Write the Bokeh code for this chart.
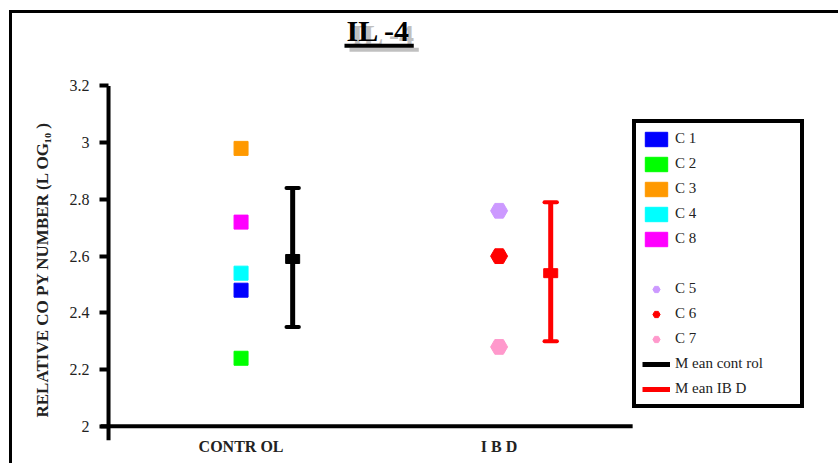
from bokeh.plotting import figure
from bokeh.models import (ColumnDataSource, Legend, LegendItem, Label, BoxAnnotation,
                          FixedTicker, Range1d)
from bokeh.embed import file_html
from bokeh.resources import INLINE

# ---------------- data ----------------
groups = ["CONTR OL", "I B D"]
group_pos = [1, 2]

control_names = ["C 1", "C 2", "C 3", "C 4", "C 8"]
control_values = [2.48, 2.24, 2.98, 2.54, 2.72]
control_colors = ["#0000ff", "#00ff00", "#ff9900", "#00ffff", "#ff00ff"]

ibd_names = ["C 5", "C 6", "C 7"]
ibd_values = [2.76, 2.60, 2.28]
ibd_colors = ["#cc99ff", "#ff0000", "#ff99cc"]

mean_names = ["M ean cont rol", "M ean IB D"]
mean_values = [2.59, 2.54]
mean_lower = [2.35, 2.30]
mean_upper = [2.84, 2.79]
mean_colors = ["#000000", "#ff0000"]

y_ticks = [2, 2.2, 2.4, 2.6, 2.8, 3, 3.2]
y_tick_labels = ["2", "2.2", "2.4", "2.6", "2.8", "3", "3.2"]

title_text = "IL -4"
y_title = "RELATIVE CO PY NUMBER (L OG\u2081\u2080 )"

# ---------------- styles / geometry ----------------
FONT = "Liberation Serif"
mean_offset = 0.2
cap_half = 0.024
X0, X1 = 0.4553, 3.3269          # x range (frame also holds the legend area)
x_axis_end = 2.5175              # right end of the horizontal axis line
Y0, Y1 = 1.95, 3.4556            # y range (top part holds the title)
axis_x = 0.4864                  # where the vertical axis line sits
# title placement (data units of the frame)
tx, ty = 1.533, 3.397
sdx, sdy = 0.0195, -0.0142       # shadow offset
ul_left, ul_right, ul_top, ul_bot = 1.4008, 1.6693, 3.3491, 3.3349

p = figure(width=829, height=453,
           x_range=Range1d(X0, X1), y_range=Range1d(Y0, Y1),
           output_backend="svg", toolbar_location=None,
           min_border_left=88, min_border_right=0,
           min_border_top=0, min_border_bottom=26)
p.title = None
p.styles = {"margin-left": "9px", "margin-top": "10px",
            "border-top": "3px solid black", "border-left": "3px solid black"}
p.outline_line_color = None
p.xgrid.visible = False
p.ygrid.visible = False

# y axis
p.yaxis.ticker = FixedTicker(ticks=y_ticks)
p.yaxis.major_label_overrides = dict(zip(y_ticks, y_tick_labels))
p.yaxis.axis_line_color = None
p.yaxis.major_tick_line_width = 4
p.yaxis.major_tick_line_color = "black"
p.yaxis.major_tick_in = 8
p.yaxis.major_tick_out = 1
p.yaxis.minor_tick_line_color = None
p.yaxis.major_label_text_font = FONT
p.yaxis.major_label_text_font_size = "16px"
p.yaxis.major_label_text_color = "#222222"
p.yaxis.major_label_standoff = 10
# trailing no-break spaces shift the label's centre down to the plotted part
p.yaxis.axis_label = y_title + "\u00a0" * 20
p.yaxis.axis_label_text_font = FONT
p.yaxis.axis_label_text_font_size = "17px"
p.yaxis.axis_label_text_font_style = "bold"
p.yaxis.axis_label_text_color = "#222222"
p.yaxis.axis_label_standoff = 15

# x axis
p.xaxis.ticker = FixedTicker(ticks=group_pos)
p.xaxis.major_label_overrides = dict(zip(group_pos, groups))
p.xaxis.axis_line_color = None
p.xaxis.major_tick_line_color = None
p.xaxis.major_tick_in = 0
p.xaxis.major_tick_out = 0
p.xaxis.minor_tick_line_color = None
p.xaxis.minor_tick_in = 0
p.xaxis.minor_tick_out = 0
p.xaxis.major_label_text_font = FONT
p.xaxis.major_label_text_font_size = "16px"
p.xaxis.major_label_text_font_style = "bold"
p.xaxis.major_label_text_color = "#222222"
p.xaxis.major_label_standoff = -3

# axis lines (crossing at y = 2)
p.segment(x0=[X0], y0=[y_ticks[0]], x1=[x_axis_end], y1=[y_ticks[0]], line_color="black",
          line_width=4)
p.segment(x0=[axis_x], y0=[Y0], x1=[axis_x], y1=[y_ticks[-1]], line_color="black",
          line_width=4)

# ---------------- glyphs ----------------
ctrl_src = ColumnDataSource(dict(x=[group_pos[0]] * len(control_values), y=control_values,
                                 color=control_colors))
r_ctrl = p.rect("x", "y", width=14, height=14, width_units="screen", height_units="screen",
                fill_color="color", line_color="color", source=ctrl_src)

ibd_src = ColumnDataSource(dict(x=[group_pos[1]] * len(ibd_values), y=ibd_values,
                                color=ibd_colors))
r_ibd = p.scatter("x", "y", marker="hex", size=17, fill_color="color", line_color="color",
                  source=ibd_src)

mx = [g + mean_offset for g in group_pos]
err_src = ColumnDataSource(dict(x=mx, lo=mean_lower, hi=mean_upper, m=mean_values,
                                color=mean_colors,
                                cl=[v - cap_half for v in mx], cr=[v + cap_half for v in mx]))
r_err = p.segment(x0="x", y0="lo", x1="x", y1="hi", line_color="color", line_width=5,
                  source=err_src)
p.segment(x0="cl", y0="hi", x1="cr", y1="hi", line_color="color", line_width=4,
          line_cap="round", source=err_src)
p.segment(x0="cl", y0="lo", x1="cr", y1="lo", line_color="color", line_width=4,
          line_cap="round", source=err_src)
p.rect("x", "m", width=14, height=9, width_units="screen", height_units="screen",
       fill_color="color", line_color="color", source=err_src)

r_blank = p.rect(x=[], y=[], width=1, height=1, fill_alpha=0, line_alpha=0)

# ---------------- legend ----------------
items = [LegendItem(label=n, renderers=[r_ctrl], index=i) for i, n in enumerate(control_names)]
items.append(LegendItem(label=" ", renderers=[r_blank]))
items += [LegendItem(label=n, renderers=[r_ibd], index=i) for i, n in enumerate(ibd_names)]
items += [LegendItem(label=n, renderers=[r_err], index=i) for i, n in enumerate(mean_names)]

legend = Legend(items=items, location=(532, 32), border_line_color="black",
                border_line_alpha=1, border_line_width=4, padding=6, spacing=6,
                glyph_width=28, glyph_height=18, label_height=19, label_width=119,
                label_standoff=5, margin=0,
                label_text_font=FONT, label_text_font_size="15px",
                label_text_color="#222222", background_fill_color="white",
                background_fill_alpha=1, click_policy="none")
p.add_layout(legend)

# ---------------- title (underlined, with grey shadow) ----------------
p.add_layout(BoxAnnotation(left=ul_left + sdx, right=ul_right + sdx,
                           top=ul_top + sdy, bottom=ul_bot + sdy,
                           fill_color="#c0c0c0", fill_alpha=1, line_color=None))
p.add_layout(Label(x=tx + sdx, y=ty + sdy, text=title_text,
                   text_align="center", text_baseline="alphabetic", text_font=FONT,
                   text_font_size="30px", text_font_style="bold", text_color="#c0c0c0"))
p.add_layout(BoxAnnotation(left=ul_left, right=ul_right, top=ul_top, bottom=ul_bot,
                           fill_color="black", fill_alpha=1, line_color=None))
p.add_layout(Label(x=tx, y=ty, text=title_text,
                   text_align="center", text_baseline="alphabetic", text_font=FONT,
                   text_font_size="30px", text_font_style="bold", text_color="black"))

open("out.html", "w").write(file_html(p, INLINE))
